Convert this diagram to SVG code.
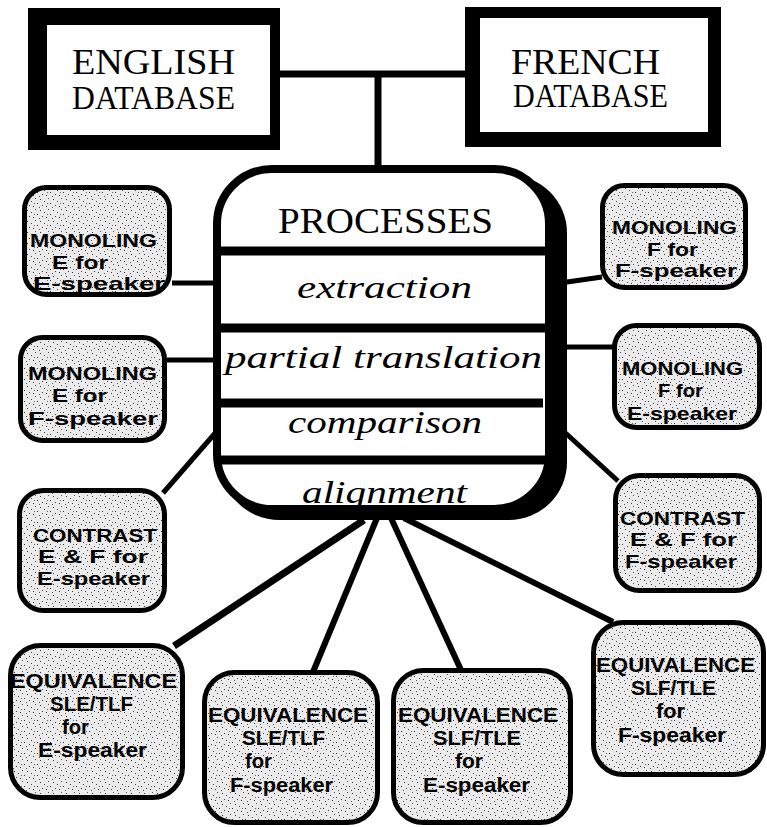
<svg xmlns="http://www.w3.org/2000/svg" width="767" height="827" viewBox="0 0 767 827">
<defs>
<pattern id="speckle" width="13" height="11" patternUnits="userSpaceOnUse">
<rect width="13" height="11" fill="#ebebeb"/>
<rect x="1" y="1" width="1" height="1" fill="#333"/>
<rect x="5" y="3" width="1" height="1" fill="#444"/>
<rect x="9" y="0" width="1" height="1" fill="#555"/>
<rect x="11" y="5" width="1" height="1" fill="#333"/>
<rect x="3" y="7" width="1" height="1" fill="#444"/>
<rect x="7" y="8" width="1" height="1" fill="#333"/>
<rect x="0" y="9" width="1" height="1" fill="#555"/>
<rect x="8" y="5" width="1" height="1" fill="#666"/>
</pattern>
<style>
.box{fill:url(#speckle);stroke:#000;stroke-width:5}
.bt{font-family:"Liberation Sans",Arial,sans-serif;font-weight:bold;font-size:19px;fill:#000}
.bq{font-family:"Liberation Sans",Arial,sans-serif;font-weight:bold;font-size:20px;fill:#000}
.db{font-family:"Liberation Serif","Times New Roman",serif;fill:#000}
.pr{font-family:"Liberation Serif","Times New Roman",serif;font-style:italic;font-size:32px;fill:#000}
.con{stroke:#000;stroke-width:5;fill:none;stroke-linecap:butt}
.div{stroke:#000;stroke-width:9}
</style>
</defs>
<rect width="767" height="827" fill="#fff"/>

<g id="connectors">
<line class="con" x1="280" y1="74" x2="466" y2="74" style="stroke-width:7"/>
<line class="con" x1="378" y1="74" x2="378" y2="172" style="stroke-width:7"/>
<line class="con" x1="172" y1="283" x2="216" y2="283"/>
<line class="con" x1="167" y1="360" x2="216" y2="360"/>
<line class="con" x1="163" y1="493" x2="217" y2="431"/>
<line class="con" x1="560" y1="283" x2="602" y2="277"/>
<line class="con" x1="560" y1="347" x2="614" y2="347"/>
<line class="con" x1="560" y1="428" x2="618" y2="481"/>
<line class="con" x1="174" y1="646" x2="364" y2="520" style="stroke-width:7"/>
<line class="con" x1="313" y1="672" x2="377" y2="518" style="stroke-width:6"/>
<line class="con" x1="461" y1="670" x2="391" y2="518" style="stroke-width:6"/>
<line class="con" x1="613" y1="622" x2="404" y2="518" style="stroke-width:6"/>
</g>

<g id="english-db">
<rect x="28" y="8" width="252" height="142" fill="#000"/>
<rect x="47" y="25" width="223" height="110" fill="#fff"/>
<text class="db" x="72" y="74" font-size="36" textLength="163" lengthAdjust="spacingAndGlyphs">ENGLISH</text>
<text class="db" x="72" y="109" font-size="33" textLength="163" lengthAdjust="spacingAndGlyphs">DATABASE</text>
</g>

<g id="french-db">
<rect x="465" y="7" width="256" height="140" fill="#000"/>
<rect x="480" y="18" width="228" height="114" fill="#fff"/>
<text class="db" x="511" y="74" font-size="36" textLength="149" lengthAdjust="spacingAndGlyphs">FRENCH</text>
<text class="db" x="513" y="107" font-size="33" textLength="155" lengthAdjust="spacingAndGlyphs">DATABASE</text>
</g>

<g id="processes">
<rect x="221" y="175" width="346" height="345" rx="58" fill="#000"/>
<rect x="217" y="169" width="332" height="340" rx="55" fill="#fff" stroke="#000" stroke-width="8"/>
<line class="div" x1="217" y1="251" x2="560" y2="251"/>
<line class="div" x1="221" y1="328" x2="546" y2="328"/>
<line class="div" x1="221" y1="403" x2="543" y2="403"/>
<line class="div" x1="219" y1="460" x2="547" y2="460"/>
<text class="db" x="278" y="233" font-size="36" textLength="215" lengthAdjust="spacingAndGlyphs">PROCESSES</text>
<text class="pr" x="297" y="298" textLength="175" lengthAdjust="spacingAndGlyphs">extraction</text>
<text class="pr" x="225" y="368" textLength="317" lengthAdjust="spacingAndGlyphs">partial translation</text>
<text class="pr" x="288" y="433" textLength="194" lengthAdjust="spacingAndGlyphs">comparison</text>
<text class="pr" x="302" y="503" textLength="165" lengthAdjust="spacingAndGlyphs">alignment</text>
</g>

<g id="mono-e-e">
<rect class="box" x="24.5" y="187.5" width="145" height="107" rx="22"/>
<text class="bt" x="30" y="247" textLength="127" lengthAdjust="spacingAndGlyphs">MONOLING</text>
<text class="bt" x="52" y="268.5" textLength="56" lengthAdjust="spacingAndGlyphs">E for</text>
<text class="bt" x="33" y="290" textLength="132" lengthAdjust="spacingAndGlyphs">E-speaker</text>
</g>

<g id="mono-e-f">
<rect class="box" x="20.5" y="337.5" width="144" height="103" rx="22"/>
<text class="bt" x="28" y="380" textLength="129" lengthAdjust="spacingAndGlyphs">MONOLING</text>
<text class="bt" x="52" y="402" textLength="55" lengthAdjust="spacingAndGlyphs">E for</text>
<text class="bt" x="28" y="425" textLength="130" lengthAdjust="spacingAndGlyphs">F-speaker</text>
</g>

<g id="contrast-e">
<rect class="box" x="19.5" y="490.5" width="145" height="120" rx="24"/>
<text class="bt" x="33" y="541.5" textLength="124" lengthAdjust="spacingAndGlyphs">CONTRAST</text>
<text class="bt" x="38" y="563" textLength="110" lengthAdjust="spacingAndGlyphs">E &amp; F for</text>
<text class="bt" x="37" y="585" textLength="113" lengthAdjust="spacingAndGlyphs">E-speaker</text>
</g>

<g id="mono-f-f">
<rect class="box" x="602.5" y="185.5" width="143" height="102" rx="22"/>
<text class="bt" x="612" y="234" textLength="125" lengthAdjust="spacingAndGlyphs">MONOLING</text>
<text class="bt" x="647" y="255.5" textLength="51" lengthAdjust="spacingAndGlyphs">F for</text>
<text class="bt" x="615" y="277" textLength="122" lengthAdjust="spacingAndGlyphs">F-speaker</text>
</g>

<g id="mono-f-e">
<rect class="box" x="614.5" y="325.5" width="145" height="102" rx="22"/>
<text class="bt" x="622" y="375" textLength="121" lengthAdjust="spacingAndGlyphs">MONOLING</text>
<text class="bt" x="658" y="397" textLength="45" lengthAdjust="spacingAndGlyphs">F for</text>
<text class="bt" x="627" y="420" textLength="110" lengthAdjust="spacingAndGlyphs">E-speaker</text>
</g>

<g id="contrast-f">
<rect class="box" x="615.5" y="475.5" width="144" height="115" rx="24"/>
<text class="bt" x="620" y="524.5" textLength="125" lengthAdjust="spacingAndGlyphs">CONTRAST</text>
<text class="bt" x="630" y="546" textLength="107" lengthAdjust="spacingAndGlyphs">E &amp; F for</text>
<text class="bt" x="625" y="568" textLength="112" lengthAdjust="spacingAndGlyphs">F-speaker</text>
</g>

<g id="equiv-sle-e">
<rect class="box" x="10.5" y="645.5" width="172" height="152" rx="30"/>
<text class="bq" x="10" y="688" textLength="167" lengthAdjust="spacingAndGlyphs">EQUIVALENCE</text>
<text class="bq" x="50" y="711" textLength="83" lengthAdjust="spacingAndGlyphs">SLE/TLF</text>
<text class="bq" x="62" y="734" textLength="27" lengthAdjust="spacingAndGlyphs">for</text>
<text class="bq" x="38" y="757" textLength="109" lengthAdjust="spacingAndGlyphs">E-speaker</text>
</g>

<g id="equiv-sle-f">
<rect class="box" x="204.5" y="672.5" width="173" height="150" rx="30"/>
<text class="bq" x="208" y="722" textLength="160" lengthAdjust="spacingAndGlyphs">EQUIVALENCE</text>
<text class="bq" x="242" y="745" textLength="83" lengthAdjust="spacingAndGlyphs">SLE/TLF</text>
<text class="bq" x="245" y="768" textLength="27" lengthAdjust="spacingAndGlyphs">for</text>
<text class="bq" x="230" y="792" textLength="103" lengthAdjust="spacingAndGlyphs">F-speaker</text>
</g>

<g id="equiv-slf-e">
<rect class="box" x="393.5" y="670.5" width="177" height="152" rx="30"/>
<text class="bq" x="398" y="722" textLength="160" lengthAdjust="spacingAndGlyphs">EQUIVALENCE</text>
<text class="bq" x="433" y="745" textLength="88" lengthAdjust="spacingAndGlyphs">SLF/TLE</text>
<text class="bq" x="455" y="768" textLength="28" lengthAdjust="spacingAndGlyphs">for</text>
<text class="bq" x="423" y="792" textLength="107" lengthAdjust="spacingAndGlyphs">E-speaker</text>
</g>

<g id="equiv-slf-f">
<rect class="box" x="593.5" y="622.5" width="170" height="152" rx="30"/>
<text class="bq" x="596" y="672" textLength="159" lengthAdjust="spacingAndGlyphs">EQUIVALENCE</text>
<text class="bq" x="631" y="695" textLength="85" lengthAdjust="spacingAndGlyphs">SLF/TLE</text>
<text class="bq" x="656" y="718" textLength="29" lengthAdjust="spacingAndGlyphs">for</text>
<text class="bq" x="618" y="742" textLength="108" lengthAdjust="spacingAndGlyphs">F-speaker</text>
</g>
</svg>
